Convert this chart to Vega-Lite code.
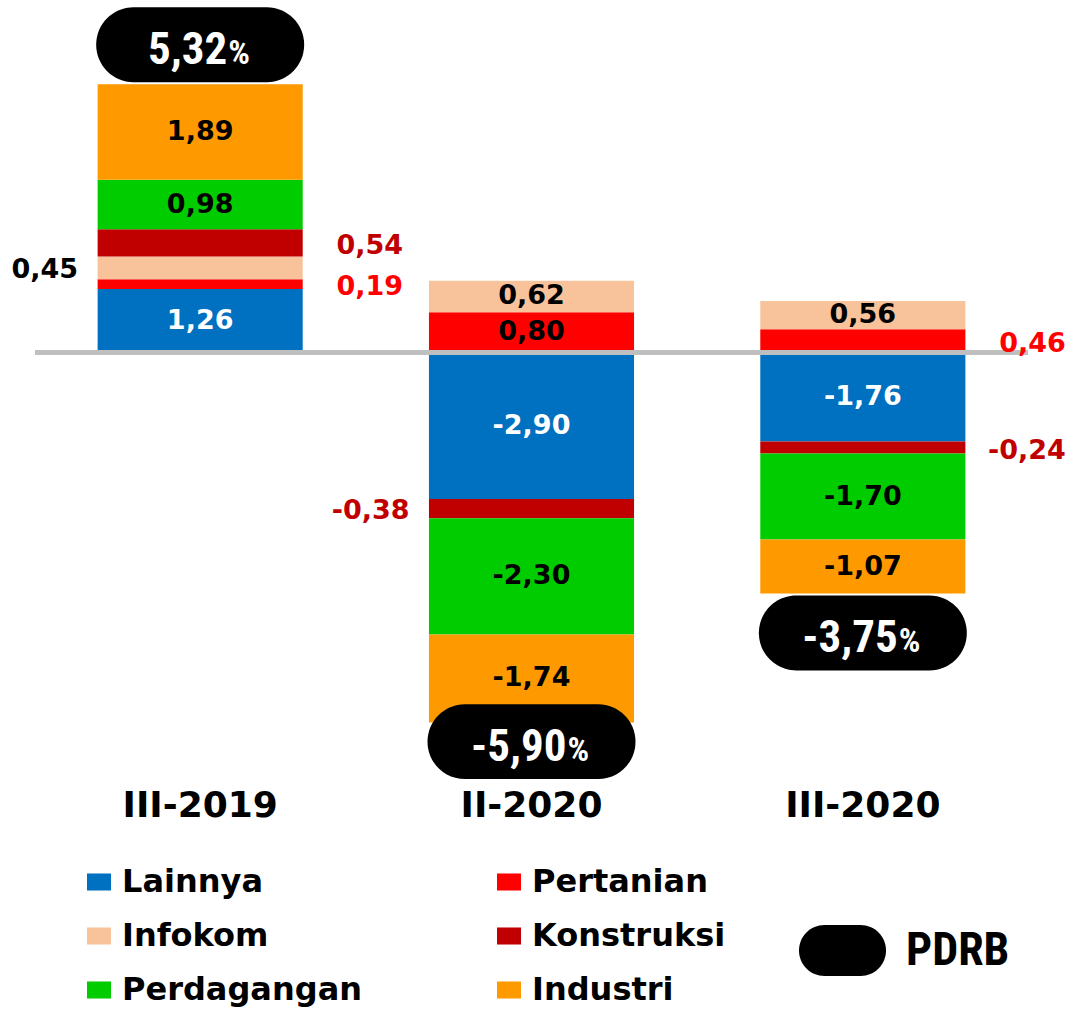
{
  "$schema": "https://vega.github.io/schema/vega-lite/v6.json",
  "width": 993,
  "height": 773,
  "autosize": {"type": "none"},
  "padding": {"left": 35, "top": 9, "right": 39, "bottom": 229},
  "background": "white",
  "config": {
    "view": {"stroke": null},
    "locale": {"number": {"decimal": ",", "thousands": ".", "grouping": [3], "currency": ["", ""], "minus": "-"}}
  },
  "datasets": {
    "sektor": [
      {"period": "III-2019", "sector": "Lainnya", "value": 1.26},
      {"period": "III-2019", "sector": "Pertanian", "value": 0.19},
      {"period": "III-2019", "sector": "Infokom", "value": 0.45},
      {"period": "III-2019", "sector": "Konstruksi", "value": 0.54},
      {"period": "III-2019", "sector": "Perdagangan", "value": 0.98},
      {"period": "III-2019", "sector": "Industri", "value": 1.89},
      {"period": "II-2020", "sector": "Lainnya", "value": -2.90},
      {"period": "II-2020", "sector": "Pertanian", "value": 0.80},
      {"period": "II-2020", "sector": "Infokom", "value": 0.62},
      {"period": "II-2020", "sector": "Konstruksi", "value": -0.38},
      {"period": "II-2020", "sector": "Perdagangan", "value": -2.30},
      {"period": "II-2020", "sector": "Industri", "value": -1.74},
      {"period": "III-2020", "sector": "Lainnya", "value": -1.76},
      {"period": "III-2020", "sector": "Pertanian", "value": 0.46},
      {"period": "III-2020", "sector": "Infokom", "value": 0.56},
      {"period": "III-2020", "sector": "Konstruksi", "value": -0.24},
      {"period": "III-2020", "sector": "Perdagangan", "value": -1.70},
      {"period": "III-2020", "sector": "Industri", "value": -1.07}
    ],
    "pdrb": [
      {"period": "III-2019", "pdrb": 5.32},
      {"period": "II-2020", "pdrb": -5.90},
      {"period": "III-2020", "pdrb": -3.75}
    ]
  },
  "layer": [
    {
      "data": {"name": "sektor"},
      "transform": [{"stack": "value", "groupby": ["period"], "as": ["v0", "v1"]}],
      "mark": {"type": "bar"},
      "encoding": {
        "x": {
          "field": "period", "type": "nominal", "sort": null,
          "scale": {"domain": ["III-2019", "II-2020", "III-2020"], "paddingInner": 0.381, "paddingOuter": 0.189},
          "axis": {"title": null, "domain": false, "ticks": false, "tickSize": 0, "labelAngle": 0, "labelFont": "DejaVu Sans", "labelFontWeight": "bold", "labelFontSize": 36, "labelColor": "black", "labelPadding": 6}
        },
        "y": {"field": "v1", "type": "quantitative", "scale": {"domain": [-8.5, 6.8], "nice": false, "zero": false}, "axis": null},
        "y2": {"field": "v0"},
        "color": {
          "field": "sector", "type": "nominal",
          "scale": {
            "domain": ["Lainnya", "Infokom", "Perdagangan", "Pertanian", "Konstruksi", "Industri"],
            "range": ["#0070C0", "#F8C39B", "#00CC00", "#FF0000", "#C00000", "#FF9900"]
          },
          "legend": {
            "orient": "none", "legendX": 48, "legendY": 857, "columns": 2, "columnPadding": 131, "rowPadding": 22,
            "title": null, "padding": 0, "labelLimit": 400, "labelOffset": 7,
            "symbolType": "M -1 -0.71 L 1 -0.71 L 1 0.71 L -1 0.71 Z", "symbolSize": 576, "symbolStrokeWidth": 0,
            "labelFont": "DejaVu Sans", "labelFontWeight": "bold", "labelFontSize": 32, "labelColor": "black"
          }
        }
      }
    },
    {
      "data": {"values": [{"nol": 0}]},
      "mark": {"type": "rule", "color": "#BFBFBF", "strokeWidth": 5},
      "encoding": {"y": {"field": "nol", "type": "quantitative"}}
    },
    {
      "data": {"name": "pdrb"},
      "layer": [
        {
          "transform": [{"filter": "datum.pdrb > 0"}],
          "mark": {"type": "point", "shape": "M -0.64 -0.36 L 0.64 -0.36 A 0.36 0.36 0 0 1 0.64 0.36 L -0.64 0.36 A 0.36 0.36 0 0 1 -0.64 -0.36 Z", "size": 43264, "filled": true, "opacity": 1, "strokeWidth": 0, "yOffset": -39},
          "encoding": {
            "x": {"field": "period", "type": "nominal"},
            "y": {"field": "pdrb", "type": "quantitative"},
            "fill": {
              "datum": "PDRB",
              "scale": {"domain": ["PDRB"], "range": ["black"]},
              "legend": {
                "orient": "none", "legendX": 764, "legendY": 898, "title": null, "padding": 0, "labelOffset": 20,
                "symbolType": "M -0.414 -0.586 L 0.414 -0.586 A 0.586 0.586 0 0 1 0.414 0.586 L -0.414 0.586 A 0.586 0.586 0 0 1 -0.414 -0.586 Z",
                "symbolSize": 7569, "symbolStrokeWidth": 0, "symbolFillColor": "black",
                "labelFont": "Roboto Condensed, Open Sans Condensed, DejaVu Sans Condensed, Liberation Sans Narrow, Liberation Sans, sans-serif", "labelFontWeight": "bold", "labelFontSize": 46, "labelColor": "black"
              }
            }
          }
        },
        {
          "transform": [{"filter": "datum.pdrb < 0"}],
          "mark": {"type": "point", "shape": "M -0.64 -0.36 L 0.64 -0.36 A 0.36 0.36 0 0 1 0.64 0.36 L -0.64 0.36 A 0.36 0.36 0 0 1 -0.64 -0.36 Z", "size": 43264, "filled": true, "fill": "black", "opacity": 1, "strokeWidth": 0, "yOffset": 91},
          "encoding": {
            "x": {"field": "period", "type": "nominal"},
            "y": {"field": "pdrb", "type": "quantitative"}
          }
        },
        {
          "transform": [{"filter": "datum.pdrb > 0"}],
          "mark": {"type": "text", "align": "right", "baseline": "alphabetic", "dx": 27, "dy": -20, "font": "Roboto Condensed, Open Sans Condensed, DejaVu Sans Condensed, Liberation Sans Narrow, Liberation Sans, sans-serif", "fontWeight": "bold", "fontSize": 45, "color": "white"},
          "encoding": {
            "x": {"field": "period", "type": "nominal"},
            "y": {"field": "pdrb", "type": "quantitative"},
            "text": {"field": "pdrb", "type": "quantitative", "format": ".2f"}
          }
        },
        {
          "transform": [{"filter": "datum.pdrb > 0"}],
          "mark": {"type": "text", "align": "left", "baseline": "alphabetic", "dx": 28, "dy": -20, "font": "Roboto Condensed, Open Sans Condensed, DejaVu Sans Condensed, Liberation Sans Narrow, Liberation Sans, sans-serif", "fontWeight": "bold", "fontSize": 34, "color": "white", "text": "%"},
          "encoding": {
            "x": {"field": "period", "type": "nominal"},
            "y": {"field": "pdrb", "type": "quantitative"}
          }
        },
        {
          "transform": [{"filter": "datum.pdrb < 0"}],
          "mark": {"type": "text", "align": "right", "baseline": "alphabetic", "dx": 35, "dy": 110, "font": "Roboto Condensed, Open Sans Condensed, DejaVu Sans Condensed, Liberation Sans Narrow, Liberation Sans, sans-serif", "fontWeight": "bold", "fontSize": 45, "color": "white"},
          "encoding": {
            "x": {"field": "period", "type": "nominal"},
            "y": {"field": "pdrb", "type": "quantitative"},
            "text": {"field": "pdrb", "type": "quantitative", "format": ".2f"}
          }
        },
        {
          "transform": [{"filter": "datum.pdrb < 0"}],
          "mark": {"type": "text", "align": "left", "baseline": "alphabetic", "dx": 36, "dy": 110, "font": "Roboto Condensed, Open Sans Condensed, DejaVu Sans Condensed, Liberation Sans Narrow, Liberation Sans, sans-serif", "fontWeight": "bold", "fontSize": 34, "color": "white", "text": "%"},
          "encoding": {
            "x": {"field": "period", "type": "nominal"},
            "y": {"field": "pdrb", "type": "quantitative"}
          }
        }
      ]
    },
    {
      "data": {"name": "sektor"},
      "transform": [
        {"stack": "value", "groupby": ["period"], "as": ["v0", "v1"]},
        {"fold": ["v0", "v1"], "as": ["edge", "pos"]},
        {"aggregate": [{"op": "mean", "field": "pos", "as": "mid"}], "groupby": ["period", "sector", "value"]}
      ],
      "layer": [
        {
          "transform": [{"filter": "abs(datum.value) >= 0.55"}],
          "mark": {"type": "text", "baseline": "middle", "align": "center", "font": "DejaVu Sans", "fontWeight": "bold", "fontSize": 27},
          "encoding": {
            "x": {"field": "period", "type": "nominal"},
            "y": {"field": "mid", "type": "quantitative"},
            "text": {"field": "value", "type": "quantitative", "format": ".2f"},
            "color": {"condition": {"test": "datum.sector === 'Lainnya'", "value": "white"}, "value": "black"}
          }
        },
        {
          "transform": [{"filter": "abs(datum.value) < 0.55 && !((datum.period === 'III-2019' && datum.sector === 'Infokom') || (datum.period === 'II-2020' && datum.sector === 'Konstruksi'))"}],
          "mark": {"type": "text", "baseline": "middle", "align": "right", "dx": 203, "dy": 3, "font": "DejaVu Sans", "fontWeight": "bold", "fontSize": 27},
          "encoding": {
            "x": {"field": "period", "type": "nominal"},
            "y": {"field": "mid", "type": "quantitative"},
            "text": {"field": "value", "type": "quantitative", "format": ".2f"},
            "color": {"condition": [{"test": "datum.sector === 'Konstruksi'", "value": "#C00000"}, {"test": "datum.sector === 'Pertanian'", "value": "#FF0000"}], "value": "black"}
          }
        },
        {
          "transform": [{"filter": "abs(datum.value) < 0.55 && ((datum.period === 'III-2019' && datum.sector === 'Infokom') || (datum.period === 'II-2020' && datum.sector === 'Konstruksi'))"}],
          "mark": {"type": "text", "baseline": "middle", "align": "right", "dx": -122, "dy": 2, "font": "DejaVu Sans", "fontWeight": "bold", "fontSize": 27},
          "encoding": {
            "x": {"field": "period", "type": "nominal"},
            "y": {"field": "mid", "type": "quantitative"},
            "text": {"field": "value", "type": "quantitative", "format": ".2f"},
            "color": {"condition": [{"test": "datum.sector === 'Konstruksi'", "value": "#C00000"}, {"test": "datum.sector === 'Pertanian'", "value": "#FF0000"}], "value": "black"}
          }
        }
      ]
    }
  ]
}
